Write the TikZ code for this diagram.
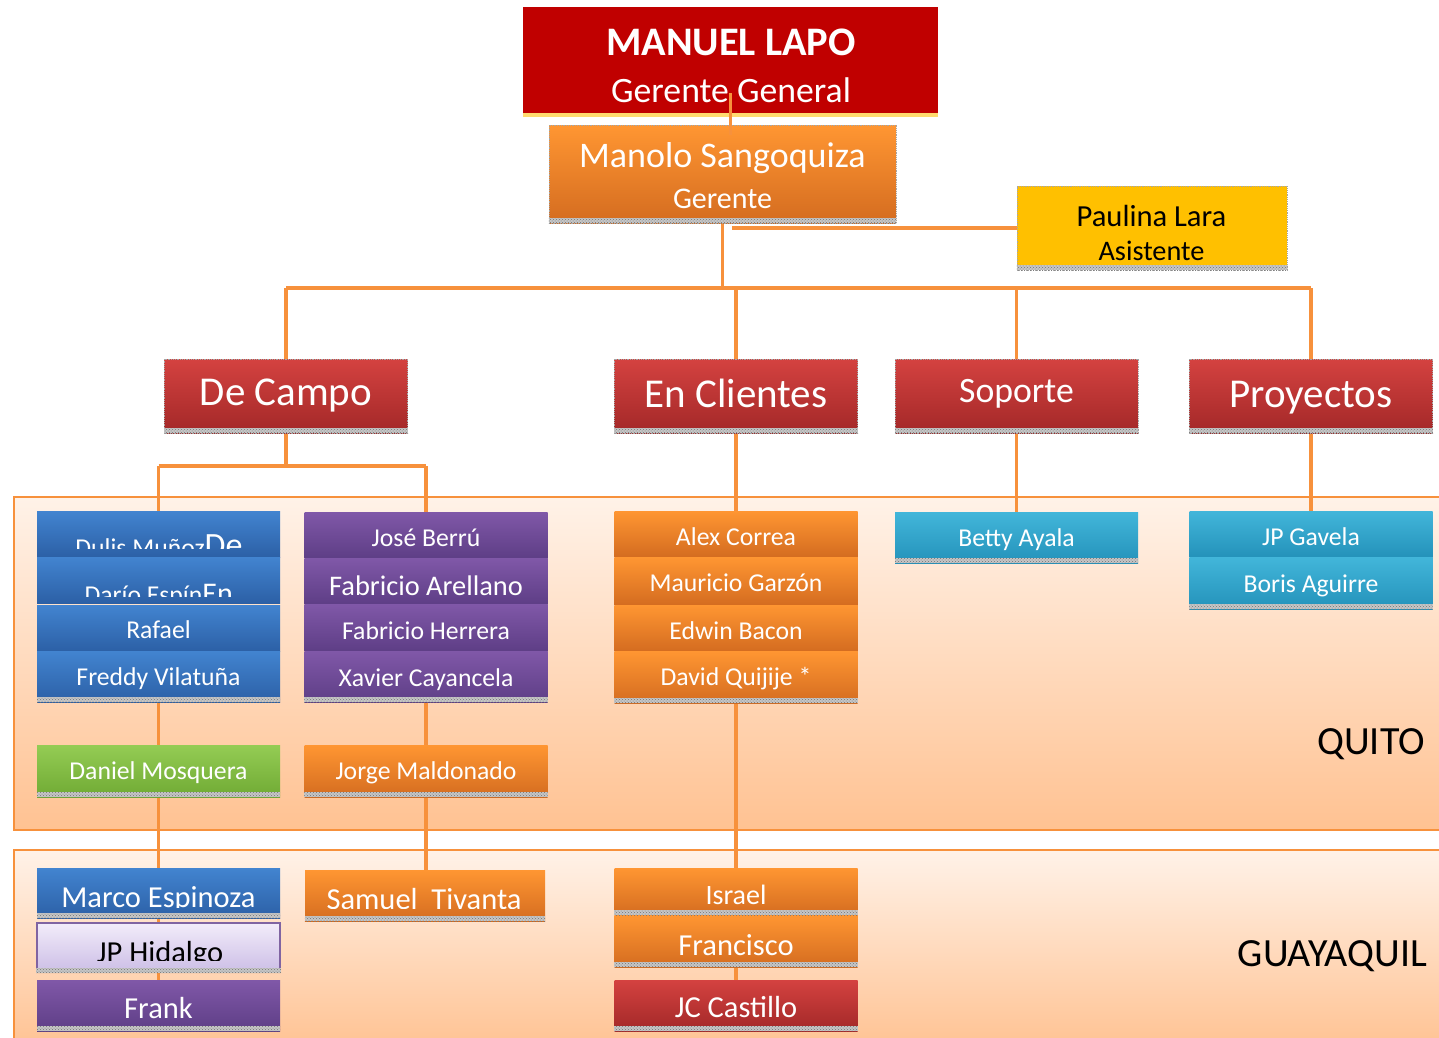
\documentclass[tikz,border=0pt]{standalone}
\usepackage{fontspec}
\setmainfont{Carlito}
\usetikzlibrary{patterns}
\newcommand\myfs[1]{\fontsize{#1}{#1}\selectfont}
\definecolor{lapored}{RGB}{192,0,0}
\definecolor{lineor}{RGB}{247,145,60}
\definecolor{orT}{RGB}{255,150,50}
\definecolor{orB}{RGB}{212,108,32}
\definecolor{redT}{RGB}{212,66,64}
\definecolor{redB}{RGB}{163,40,40}
\definecolor{blueT}{RGB}{66,132,208}
\definecolor{blueB}{RGB}{44,96,166}
\definecolor{purT}{RGB}{128,88,168}
\definecolor{purB}{RGB}{94,62,134}
\definecolor{cyT}{RGB}{66,182,218}
\definecolor{cyB}{RGB}{36,146,186}
\definecolor{grT}{RGB}{148,204,84}
\definecolor{grB}{RGB}{112,170,52}
\definecolor{yel}{RGB}{255,192,0}
\definecolor{lavT}{RGB}{242,236,250}
\definecolor{lavB}{RGB}{204,190,230}
\definecolor{lavD}{RGB}{128,100,162}
\definecolor{regT}{RGB}{255,242,232}
\definecolor{regB}{RGB}{255,194,146}
\pgfdeclarelayer{regions}
\pgfdeclarelayer{bg}
\pgfsetlayers{regions,bg,main}
\begin{document}
\begin{tikzpicture}[x=1pt,y=-1pt,
  conn/.style={draw=lineor, line width=3.8},
  box/.style={rectangle, inner sep=0pt, minimum width=243, minimum height=46, text=white, font={\myfs{25.7}}, text depth=0pt, text height=20pt},
  bluebox/.style={box, top color=blueT, bottom color=blueB},
  purplebox/.style={box, top color=purT, bottom color=purB},
  orangebox/.style={box, top color=orT, bottom color=orB},
  cyanbox/.style={box, top color=cyT, bottom color=cyB},
  greenbox/.style={box, top color=grT, bottom color=grB},
  redbox/.style={box, top color=redT, bottom color=redB},
  dotborder/.style={draw=gray!70, densely dotted, line width=0.8},
  deptbox/.style={redbox, minimum height=74, font={\myfs{41}}, dotborder},
  txt/.style={inner sep=0pt, anchor=base, text=white},
  region/.style={top color=regT, bottom color=regB, draw=lineor, line width=2},
  reglabel/.style={inner sep=0pt, anchor=base east, font={\myfs{40}}, text=black},
  stripfill/.style={fill=gray!45},
  stripdots/.style={pattern=crosshatch dots, pattern color=black!55}
]
\useasboundingbox (0,0) rectangle (1439,1037);

% background and regions
\begin{pgfonlayer}{regions}
\fill[white] (0,0) rectangle (1439,1037);
\path[region] (14,497) rectangle (1450,830);
\path[region] (14,850) rectangle (1450,1050);
\end{pgfonlayer}
\node[reglabel] (quitolab) at (1425,754) {QUITO};
\node[reglabel] (gyelab) at (1427,966) {GUAYAQUIL};

% top
\node[fill=lapored, minimum width=415, minimum height=106, inner sep=0pt] (lapo) at (730.5,60) {};
\fill[yel!70, opacity=.8] (lapo.south west) rectangle ([yshift=-4]lapo.south east);
\node[txt, font={\bfseries\myfs{40.5}}] (lapon) at (731,55) {MANUEL LAPO};
\node[txt, font={\myfs{35.7}}] (lapor) at (731,102) {Gerente General};

\node[orangebox, minimum width=347, minimum height=98, dotborder] (manolo) at (722.5,174) {};
\node[txt, font={\myfs{36}}] (manolon) at (722.5,167) {Manolo Sangoquiza};
\node[txt, font={\myfs{30}}] (manolor) at (722.5,208) {Gerente};

\node[box, fill=yel, minimum width=270, minimum height=84, dotborder] (paulina) at (1152,228) {};
\node[txt, text=black, font={\myfs{30.6}}] (paulinan) at (1151.5,226.7) {Paulina Lara};
\node[txt, text=black, font={\myfs{28.3}}] (paulinar) at (1151.5,260) {Asistente};

% departments
\node[deptbox, text height=18pt] (decampo) at (286,396) {De Campo};
\node[deptbox, text height=22pt] (enclientes) at (736,396) {En Clientes};
\node[deptbox, font={\myfs{35.7}}, text height=12pt] (soporte) at (1016.5,396) {Soporte};
\node[deptbox, text height=22pt] (proyectos) at (1311,396) {Proyectos};

% column 1 (Quito)
\node[bluebox] (dulis) at (158.5,534) {};
\begin{scope}
\clip (37,511) rectangle (280,548);
\node[txt] (dulist) at (159,556.4) {{\myfs{25.7}Dulis Muñoz}{\myfs{34}De}};
\end{scope}
\node[bluebox] (dario) at (158.5,580) {};
\begin{scope}
\clip (37,557) rectangle (280,596);
\node[txt] (dariot) at (158.7,603.4) {{\myfs{25.7}Darío Espín}{\myfs{30}En}};
\end{scope}
\node[bluebox] (rafael) at (158.5,628) {Rafael};
\node[bluebox, minimum height=51, text height=17pt] (freddy) at (158.5,676.5) {Freddy Vilatuña};

% column 2
\node[purplebox, text height=22pt] (jose) at (426,535) {José Berrú};
\node[purplebox, font={\myfs{28.4}}, text height=28pt] (faba) at (426,581) {Fabricio Arellano};
\node[purplebox, minimum height=47, text height=23pt] (fabh) at (426,627.5) {Fabricio Herrera};
\node[purplebox, minimum height=51, text height=19pt] (xavier) at (426,676.5) {Xavier Cayancela};

% column 3
\node[orangebox, text height=22pt] (alex) at (736,534) {Alex Correa};
\node[orangebox, minimum height=48] (mauricio) at (736,581) {Mauricio Garzón};
\node[orangebox, text height=22pt] (edwin) at (736,628) {Edwin Bacon};
\node[orangebox, minimum height=52, text height=16pt] (david) at (736,677) {David Quijije *};

% soporte / proyectos
\node[cyanbox, minimum height=51, text height=17pt] (betty) at (1016.5,537.5) {Betty Ayala};
\node[cyanbox, text height=22pt] (jpg) at (1311,534) {JP Gavela};
\node[cyanbox, minimum height=52, text height=18pt] (boris) at (1311,583) {Boris Aguirre};

% second level Quito
\node[greenbox, minimum height=52, text height=16pt] (daniel) at (158.5,771) {Daniel Mosquera};
\node[orangebox, minimum height=52, text height=16pt] (jorge) at (426,771) {Jorge Maldonado};

% Guayaquil
\node[bluebox, minimum height=50] (marco) at (158.5,893) {};
\begin{scope}
\clip (37,868) rectangle (280,907);
\node[txt, font={\myfs{30.5}}] (marcot) at (158.5,907.5) {Marco Espinoza};
\end{scope}
\node[box, minimum height=49, top color=lavT, bottom color=lavB, draw=lavD, line width=2] (jph) at (158.5,947.5) {};
\begin{scope}
\clip (38,924) rectangle (279,960);
\node[txt, text=black, font={\myfs{30.5}}] (jpht) at (160,962.5) {JP Hidalgo};
\end{scope}
\node[purplebox, minimum height=51, font={\myfs{30.5}}, text height=25pt] (frank) at (158.5,1005.5) {Frank};
\node[orangebox, minimum width=240, minimum height=51] (samuel) at (425,895.5) {};
\begin{scope}
\clip (305,870) rectangle (545,908);
\node[txt, font={\myfs{30.5}}] (samuelt) at (424,909.5) {Samuel\ \ Tivanta};
\end{scope}
\node[orangebox, minimum height=47, font={\myfs{28}}, text height=25pt] (israel) at (736,891.5) {Israel};
\node[orangebox, minimum height=52, font={\myfs{30.5}}, text height=28pt] (francisco) at (736,941) {Francisco};
\node[redbox, minimum height=51, font={\myfs{30.5}}, text height=23pt] (jc) at (736,1005.5) {JC Castillo};

% bottom strips
\foreach \n in {manolo,paulina,decampo,enclientes,soporte,proyectos,freddy,xavier,david,betty,boris,daniel,jorge,marco,jph,frank,samuel,israel,francisco,jc}{
  \fill[stripfill] (\n.south west) rectangle ([yshift=5]\n.south east);
  \fill[stripdots] (\n.south west) rectangle ([yshift=5]\n.south east);
}

% connectors (behind boxes)
\begin{pgfonlayer}{bg}
\coordinate (bus) at (723,288);
\coordinate (pj) at (732,228);
\coordinate (dcj) at (286,466);
\draw[conn] (manolo.south) -- (manolo.south |- bus);
\draw[conn] (pj) -- (paulina.west);
\draw[conn] (decampo.north |- bus) -- (proyectos.north |- bus);
\foreach \d in {decampo,enclientes,soporte,proyectos}{
  \draw[conn] (\d.north |- bus) -- (\d.north);
}
\draw[conn] (decampo.south) -- (dcj);
\draw[conn] (dulis.north |- dcj) -- (jose.north |- dcj);
\draw[conn] (dulis.north |- dcj) -- (dulis.north);
\draw[conn] (jose.north |- dcj) -- (jose.north);
\draw[conn] (enclientes.south) -- (alex.north);
\draw[conn] (soporte.south) -- (betty.north);
\draw[conn] (proyectos.south) -- (jpg.north);
\draw[conn] (freddy.south) -- (frank.north);
\draw[conn] (xavier.south) -- (xavier.south |- samuel.north);
\draw[conn] (david.south) -- (jc.north);
\end{pgfonlayer}
\draw[conn] ([yshift=20]lapo.south) -- ([yshift=-10]lapo.south |- manolo.north);
\end{tikzpicture}
\end{document}
